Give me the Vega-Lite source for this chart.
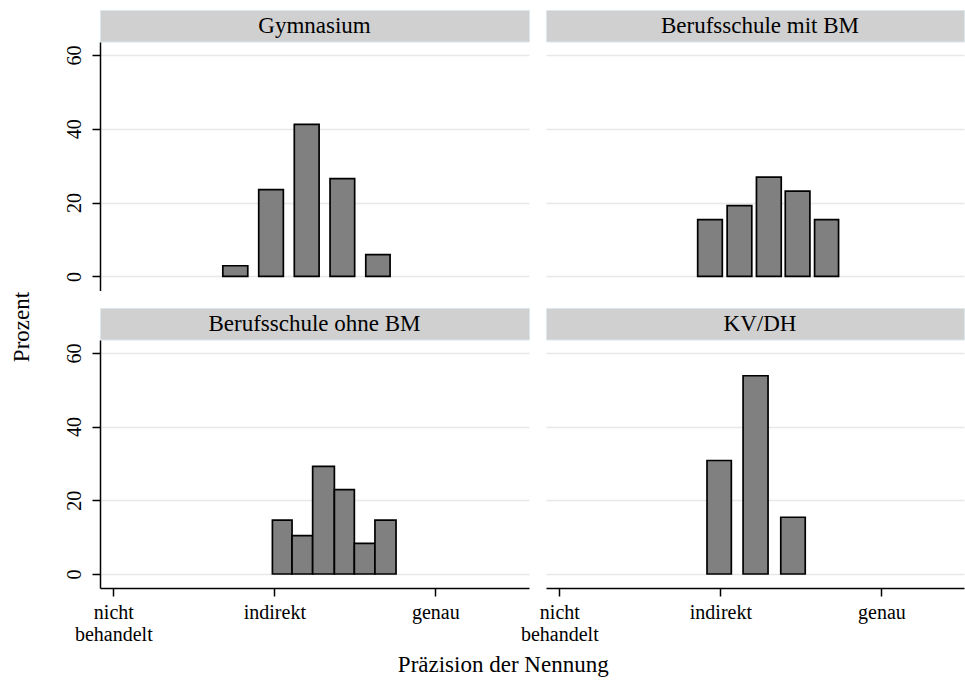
{
  "$schema": "https://vega.github.io/schema/vega-lite/v6.json",
  "padding": {"left": 0, "top": 9, "right": 0, "bottom": 0},
  "background": "white",
  "config": {
    "font": "Liberation Serif",
    "view": {"stroke": null},
    "axis": {"labelFont": "Liberation Serif", "labelColor": "#000", "labelFontSize": 20, "domainColor": "#000", "tickColor": "#000", "domainWidth": 1.5, "tickWidth": 1.5, "tickSize": 8, "gridColor": "#e8e8e8", "gridWidth": 1.5},
    "text": {"font": "Liberation Serif"},
    "title": {"font": "Liberation Serif", "fontWeight": "normal", "color": "#000"}
  },
  "datasets": {
    "bars": [
      {"g": "Gymnasium", "x0": 0.680, "x1": 0.835, "pct": 2.9},
      {"g": "Gymnasium", "x0": 0.903, "x1": 1.056, "pct": 23.5},
      {"g": "Gymnasium", "x0": 1.124, "x1": 1.278, "pct": 41.2},
      {"g": "Gymnasium", "x0": 1.346, "x1": 1.499, "pct": 26.5},
      {"g": "Gymnasium", "x0": 1.568, "x1": 1.719, "pct": 5.9},
      {"g": "Berufsschule mit BM", "x0": 0.859, "x1": 1.012, "pct": 15.4},
      {"g": "Berufsschule mit BM", "x0": 1.042, "x1": 1.195, "pct": 19.2},
      {"g": "Berufsschule mit BM", "x0": 1.224, "x1": 1.378, "pct": 26.9},
      {"g": "Berufsschule mit BM", "x0": 1.403, "x1": 1.556, "pct": 23.1},
      {"g": "Berufsschule mit BM", "x0": 1.585, "x1": 1.734, "pct": 15.4},
      {"g": "Berufsschule ohne BM", "x0": 0.988, "x1": 1.110, "pct": 14.6},
      {"g": "Berufsschule ohne BM", "x0": 1.110, "x1": 1.238, "pct": 10.4},
      {"g": "Berufsschule ohne BM", "x0": 1.238, "x1": 1.373, "pct": 29.2},
      {"g": "Berufsschule ohne BM", "x0": 1.373, "x1": 1.497, "pct": 22.9},
      {"g": "Berufsschule ohne BM", "x0": 1.497, "x1": 1.625, "pct": 8.3},
      {"g": "Berufsschule ohne BM", "x0": 1.625, "x1": 1.756, "pct": 14.6},
      {"g": "KV/DH", "x0": 0.917, "x1": 1.068, "pct": 30.8},
      {"g": "KV/DH", "x0": 1.141, "x1": 1.296, "pct": 53.8},
      {"g": "KV/DH", "x0": 1.375, "x1": 1.527, "pct": 15.4}
    ]
  },
  "title": {"text": "Präzision der Nennung", "orient": "bottom", "anchor": "middle", "fontSize": 23, "offset": 10, "dx": 21},
  "hconcat": [
    {
      "width": 44, "height": 634,
      "data": {"values": [{"t": "Prozent"}]},
      "mark": {"type": "text", "angle": 270, "fontSize": 23, "align": "center", "baseline": "middle", "color": "#000"},
      "encoding": {"text": {"field": "t"}}
    },
    {
      "spacing": 16,
      "vconcat": [
        {
          "spacing": 0,
          "vconcat": [
            {
              "spacing": 17, "bounds": "flush",
              "hconcat": [
                {
                  "width": 429, "height": 31.5,
                  "view": {"fill": "#d0d0d0", "stroke": "#dce7ec"},
                  "data": {"values": [{"t": "Gymnasium"}]},
                  "mark": {"type": "text", "fontSize": 23, "align": "center", "baseline": "middle", "color": "#000"},
                  "encoding": {"text": {"field": "t"}}
                },
                {
                  "width": 418, "height": 31.5,
                  "view": {"fill": "#d0d0d0", "stroke": "#dce7ec"},
                  "data": {"values": [{"t": "Berufsschule mit BM"}]},
                  "mark": {"type": "text", "fontSize": 23, "align": "center", "baseline": "middle", "color": "#000", "dx": 5},
                  "encoding": {"text": {"field": "t"}}
                }
              ]
            },
            {
              "spacing": 17, "bounds": "flush",
              "hconcat": [
                {
                  "width": 429, "height": 248.5,
                  "data": {"name": "bars"},
                  "transform": [{"filter": "datum.g == 'Gymnasium'"}],
                  "mark": {"type": "rect", "fill": "#808080", "stroke": "#000", "strokeWidth": 1.7},
                  "encoding": {
                    "x": {"field": "x0", "type": "quantitative", "scale": {"domain": [-0.083, 2.582], "nice": false, "zero": false}, "axis": null},
                    "x2": {"field": "x1"},
                    "y": {"field": "pct", "type": "quantitative", "scale": {"domain": [-3.8, 63.5], "nice": false, "zero": false},
                      "axis": {"values": [0, 20, 40, 60], "title": null, "labelAngle": 270, "labelAlign": "center", "labelBaseline": "bottom", "labelPadding": 8, "grid": true}},
                    "y2": {"datum": 0}
                  }
                },
                {
                  "width": 418, "height": 248.5,
                  "data": {"name": "bars"},
                  "transform": [{"filter": "datum.g == 'Berufsschule mit BM'"}],
                  "mark": {"type": "rect", "fill": "#808080", "stroke": "#000", "strokeWidth": 1.7},
                  "encoding": {
                    "x": {"field": "x0", "type": "quantitative", "scale": {"domain": [-0.083, 2.513], "nice": false, "zero": false}, "axis": null},
                    "x2": {"field": "x1"},
                    "y": {"field": "pct", "type": "quantitative", "scale": {"domain": [-3.8, 63.5], "nice": false, "zero": false},
                      "axis": {"values": [0, 20, 40, 60], "title": null, "labels": false, "ticks": false, "domain": false, "grid": true}},
                    "y2": {"datum": 0}
                  }
                }
              ]
            }
          ]
        },
        {
          "spacing": 0,
          "vconcat": [
            {
              "spacing": 17, "bounds": "flush",
              "hconcat": [
                {
                  "width": 429, "height": 31.5,
                  "view": {"fill": "#d0d0d0", "stroke": "#dce7ec"},
                  "data": {"values": [{"t": "Berufsschule ohne BM"}]},
                  "mark": {"type": "text", "fontSize": 23, "align": "center", "baseline": "middle", "color": "#000"},
                  "encoding": {"text": {"field": "t"}}
                },
                {
                  "width": 418, "height": 31.5,
                  "view": {"fill": "#d0d0d0", "stroke": "#dce7ec"},
                  "data": {"values": [{"t": "KV/DH"}]},
                  "mark": {"type": "text", "fontSize": 23, "align": "center", "baseline": "middle", "color": "#000", "dx": 5},
                  "encoding": {"text": {"field": "t"}}
                }
              ]
            },
            {
              "spacing": 17, "bounds": "flush",
              "hconcat": [
                {
                  "width": 429, "height": 248,
                  "data": {"name": "bars"},
                  "transform": [{"filter": "datum.g == 'Berufsschule ohne BM'"}],
                  "mark": {"type": "rect", "fill": "#808080", "stroke": "#000", "strokeWidth": 1.7},
                  "encoding": {
                    "x": {"field": "x0", "type": "quantitative", "scale": {"domain": [-0.083, 2.582], "nice": false, "zero": false},
                      "axis": {"values": [0, 1, 2], "title": null, "labelExpr": "datum.value == 0 ? ['nicht', 'behandelt'] : datum.value == 1 ? 'indirekt' : 'genau'", "labelPadding": 6, "labelLineHeight": 22, "labelFlush": false, "labelOverlap": false, "grid": false}},
                    "x2": {"field": "x1"},
                    "y": {"field": "pct", "type": "quantitative", "scale": {"domain": [-3.8, 63.5], "nice": false, "zero": false},
                      "axis": {"values": [0, 20, 40, 60], "title": null, "labelAngle": 270, "labelAlign": "center", "labelBaseline": "bottom", "labelPadding": 8, "grid": true}},
                    "y2": {"datum": 0}
                  }
                },
                {
                  "width": 418, "height": 248,
                  "data": {"name": "bars"},
                  "transform": [{"filter": "datum.g == 'KV/DH'"}],
                  "mark": {"type": "rect", "fill": "#808080", "stroke": "#000", "strokeWidth": 1.7},
                  "encoding": {
                    "x": {"field": "x0", "type": "quantitative", "scale": {"domain": [-0.083, 2.513], "nice": false, "zero": false},
                      "axis": {"values": [0, 1, 2], "title": null, "labelExpr": "datum.value == 0 ? ['nicht', 'behandelt'] : datum.value == 1 ? 'indirekt' : 'genau'", "labelPadding": 6, "labelLineHeight": 22, "labelFlush": false, "labelOverlap": false, "grid": false}},
                    "x2": {"field": "x1"},
                    "y": {"field": "pct", "type": "quantitative", "scale": {"domain": [-3.8, 63.5], "nice": false, "zero": false},
                      "axis": {"values": [0, 20, 40, 60], "title": null, "labels": false, "ticks": false, "domain": false, "grid": true}},
                    "y2": {"datum": 0}
                  }
                }
              ]
            }
          ]
        }
      ]
    }
  ]
}
